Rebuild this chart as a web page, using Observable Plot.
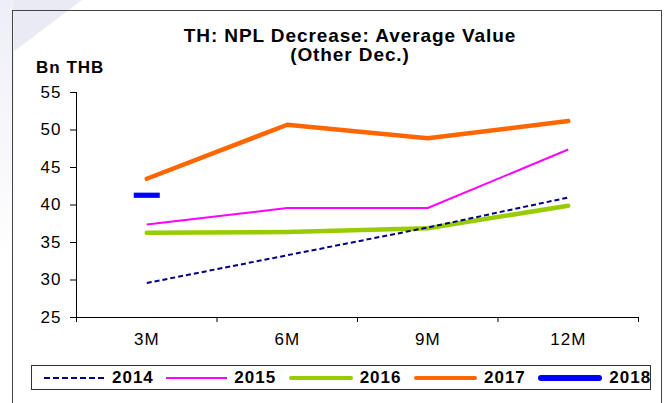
<!DOCTYPE html>
<html>
<head>
<meta charset="utf-8">
<script src="https://cdn.jsdelivr.net/npm/d3@7"></script>
<script src="https://cdn.jsdelivr.net/npm/@observablehq/plot@0.6"></script>
<style>
  html, body { margin: 0; padding: 0; background: #fff; }
  #page { position: relative; width: 669px; height: 403px; overflow: hidden; background: #fff;
          font-family: "Liberation Sans", Arial, sans-serif; color: #000; }
  #bgshape { position: absolute; left: 0; top: 0; width: 120px; height: 90px;
             background: #eaeaf5; clip-path: polygon(0 0, 82px 0, 0 62px); }
  #bgshape2 { position: absolute; left: 0; top: 0; width: 14px; height: 260px;
             background: linear-gradient(to bottom, #eeeef7, #ffffff); }
  #frame { position: absolute; left: 12px; top: 10px; width: 650px; height: 420px;
           border: 1.5px solid #444; box-sizing: border-box; }
  #title { position: absolute; left: 150px; width: 400px; top: 25.5px; text-align: center;
           font-weight: bold; font-size: 19px; line-height: 19px; letter-spacing: 0.9px; }
  #ylabel { position: absolute; left: 36px; top: 58.5px; font-weight: bold; font-size: 17px;
            line-height: 17px; letter-spacing: 1px; }
  #chart { position: absolute; left: 0; top: 0; }
  #legend { position: absolute; left: 31px; top: 365px; width: 620px; height: 25px;
            border: 1px solid #333; box-sizing: border-box; display: flex; align-items: center;
            padding-left: 12px; font-weight: bold; font-size: 17px; letter-spacing: 1px; }
  .item { display: flex; align-items: center; margin-right: 12.5px; }
  .item svg { margin-right: 7px; display: block; }
</style>
</head>
<body>
<div id="page">
  <div id="bgshape"></div>
  <div id="bgshape2"></div>
  <div id="frame"></div>
  <div id="chart"></div>
  <div id="title">TH: NPL Decrease: Average Value<br>(Other Dec.)</div>
  <div id="ylabel">Bn THB</div>
  <div id="legend"></div>
</div>
<script>
// ---- data ----
const categories = ["3M", "6M", "9M", "12M"];
const years = ["2014", "2015", "2016", "2017", "2018"];
const v2014 = [29.6, 33.3, 37.0, 41.0];
const v2015 = [37.4, 39.6, 39.6, 47.4];
const v2016 = [36.3, 36.4, 36.9, 39.9];
const v2017 = [43.5, 50.7, 48.9, 51.2];
const v2018 = [41.3, null, null, null];
const yTicks = [25, 30, 35, 40, 45, 50, 55];
const yDomain = [25, 55];

// ---- styles ----
const seriesStyle = {
  "2014": {stroke: "#000080", strokeWidth: 2, strokeDasharray: "5,3", legendWidth: 2},
  "2015": {stroke: "#FF00FF", strokeWidth: 2, legendWidth: 2},
  "2016": {stroke: "#99CC00", strokeWidth: 4.5, strokeLinecap: "round", legendWidth: 4},
  "2017": {stroke: "#FF6600", strokeWidth: 4.5, strokeLinecap: "round", legendWidth: 4},
  "2018": {stroke: "#0000FF", strokeWidth: 5, legendWidth: 6}
};

const seriesValues = {"2014": v2014, "2015": v2015, "2016": v2016, "2017": v2017, "2018": v2018};
const rows = [];
for (const yr of years) {
  seriesValues[yr].forEach((v, i) => {
    if (v != null) rows.push({year: yr, i, cat: categories[i], value: v});
  });
}
const byYear = yr => rows.filter(r => r.year === yr);
const boundaries = categories.map((_, i) => i - 0.5).concat([categories.length - 0.5]);
const centers = categories.map((_, i) => i);

const lineMark = yr => {
  const s = seriesStyle[yr];
  return Plot.line(byYear(yr), {
    x: "i", y: "value", stroke: s.stroke, strokeWidth: s.strokeWidth,
    strokeDasharray: s.strokeDasharray, strokeLinecap: s.strokeLinecap || "butt",
    strokeLinejoin: "round"
  });
};

// dash-shaped marker for the single 2018 point
const dashSymbol = { draw(ctx, size) { ctx.rect(-13, -2.6, 26, 5.2); } };

const chart = Plot.plot({
  width: 669,
  height: 355,
  marginTop: 92,
  marginBottom: 38,
  marginLeft: 76,
  marginRight: 31,
  x: {type: "linear", domain: [boundaries[0], boundaries[boundaries.length - 1]]},
  y: {domain: yDomain},
  style: {fontFamily: "'Liberation Sans', Arial, sans-serif", fontSize: "17px",
          background: "transparent", overflow: "visible", letterSpacing: "1px", color: "#000"},
  marks: [
    Plot.axisY({ticks: yTicks, tickSize: 6, tickPadding: 9, tickFormat: d => String(d), label: null}),
    Plot.axisX({ticks: boundaries, tickSize: 5, tickFormat: () => "", label: null}),
    Plot.axisX({ticks: centers, tickSize: 0, tickPadding: 15, tickFormat: i => categories[i], label: null}),
    Plot.ruleY([yDomain[0]], {stroke: "#000", strokeWidth: 1}),
    Plot.ruleX([boundaries[0]], {stroke: "#000", strokeWidth: 1}),
    lineMark("2017"),
    lineMark("2015"),
    lineMark("2016"),
    lineMark("2014"),
    Plot.dot(byYear("2018"), {x: "i", y: "value", symbol: dashSymbol, r: 5,
                              fill: seriesStyle["2018"].stroke, stroke: "none"})
  ]
});
document.getElementById("chart").appendChild(chart);

// ---- legend ----
const legend = document.getElementById("legend");
const lineWidths = {"2014": 61, "2015": 61, "2016": 64, "2017": 63, "2018": 64};
for (const yr of years) {
  const s = seriesStyle[yr];
  const item = document.createElement("div");
  item.className = "item";
  const w = lineWidths[yr];
  const pad = s.legendWidth / 2;
  const dash = s.strokeDasharray ? ` stroke-dasharray="6,3"` : "";
  const cap = s.legendWidth >= 4 ? "round" : "butt";
  item.innerHTML = `<svg width="${w}" height="10"><line x1="${cap === 'round' ? pad : 0}" x2="${cap === 'round' ? w - pad : w}" y1="5" y2="5" stroke="${s.stroke}" stroke-width="${s.legendWidth}" stroke-linecap="${cap}"${dash}/></svg><span>${yr}</span>`;
  legend.appendChild(item);
}
</script>
</body>
</html>
